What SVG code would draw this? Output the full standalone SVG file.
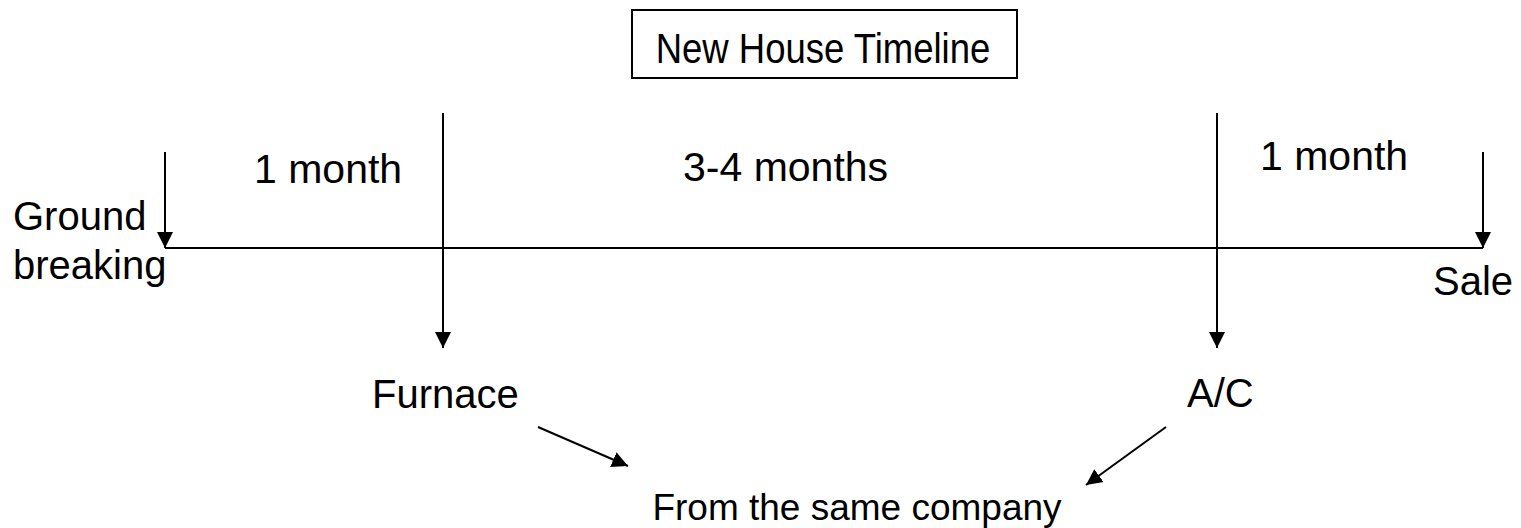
<svg xmlns="http://www.w3.org/2000/svg" width="1521" height="528" viewBox="0 0 1521 528">
<style>
.t{font-family:"Liberation Sans",Arial,sans-serif;font-size:40px;fill:#000}
.ln{stroke:#000;stroke-width:2;fill:none}
</style>
<defs>
<marker id="ah" markerUnits="userSpaceOnUse" markerWidth="17" markerHeight="17" viewBox="0 0 17 17" refX="16" refY="8.5" orient="auto">
<path d="M0,0.5 L16,8.5 L0,16.5 Z" fill="#000"/>
</marker>
</defs>
<rect width="1521" height="528" fill="#fff"/>
<g id="title">
<rect x="632" y="10" width="385" height="68" fill="#fff" stroke="#000" stroke-width="2"/>
<text class="t" transform="translate(823,63) scale(1,1.16)" x="0" y="0" text-anchor="middle" style="font-size:36.5px">New House Timeline</text>
</g>
<g id="connectors">
<line class="ln" x1="165" y1="248" x2="1483" y2="248"/>
<line class="ln" x1="165" y1="152" x2="165" y2="248" marker-end="url(#ah)"/>
<line class="ln" x1="1483" y1="152" x2="1483" y2="248" marker-end="url(#ah)"/>
<line class="ln" x1="443" y1="113" x2="443" y2="348" marker-end="url(#ah)"/>
<line class="ln" x1="1217" y1="113" x2="1217" y2="348" marker-end="url(#ah)"/>
<line class="ln" x1="538" y1="427" x2="628" y2="466" marker-end="url(#ah)"/>
<line class="ln" x1="1166" y1="427" x2="1086" y2="485" marker-end="url(#ah)"/>
</g>
<g id="ground"><text class="t" x="13" y="230">Ground</text><text class="t" x="13" y="279">breaking</text></g>
<g id="sale"><text class="t" x="1433" y="295">Sale</text></g>
<g id="m1"><text class="t" x="254" y="183" style="font-size:41px">1 month</text></g>
<g id="m34"><text class="t" x="683" y="181" style="font-size:41px">3-4 months</text></g>
<g id="m1b"><text class="t" x="1260" y="170" style="font-size:41px">1 month</text></g>
<g id="furnace"><text class="t" x="372" y="408">Furnace</text></g>
<g id="ac"><text class="t" x="1187" y="407">A/C</text></g>
<g id="company"><text class="t" x="857" y="520" text-anchor="middle" style="font-size:37px">From the same company</text></g>
</svg>
